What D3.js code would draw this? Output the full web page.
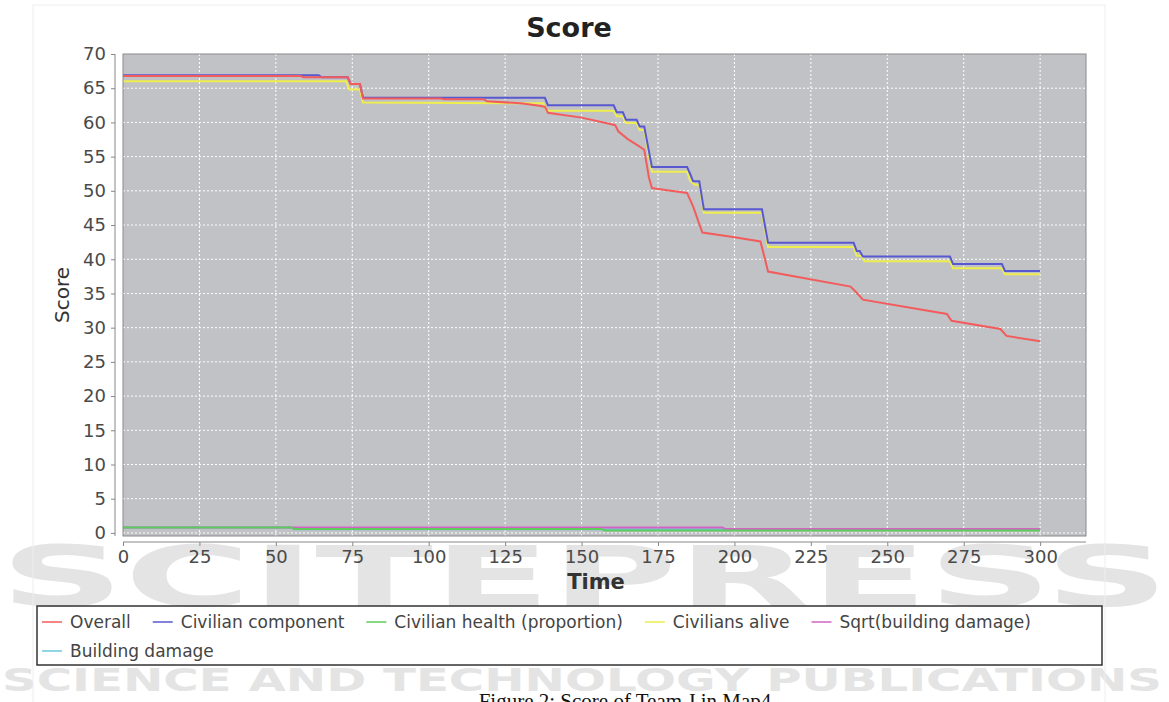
<!DOCTYPE html>
<html>
<head>
<meta charset="utf-8">
<script src="https://cdn.jsdelivr.net/npm/d3@7"></script>
<style>
  body { margin: 0; background: #fff; }
  svg { display: block; }
</style>
</head>
<body>
<div id="chart"></div>
<script>
// score data: [time, value]
var overall = [[0,66.8],[58,66.8],[59,66.6],[73.5,66.6],[74.5,65.6],[77.5,65.6],[78.5,63.5],[104,63.5],[105,63.4],[118,63.4],[119,63.1],[130,62.8],[135,62.5],[138,62.3],[139,61.4],[150,60.7],[159,59.8],[161,59.6],[162,58.7],[165,57.6],[168.5,56.6],[170.5,56.0],[172,52.0],[173,50.4],[178,50.1],[184.5,49.7],[186.5,47.7],[189.5,43.9],[199,43.3],[208.5,42.6],[210,40.0],[211,38.2],[238,36.0],[240,35.1],[242,34.1],[269.5,32.0],[271,31.0],[287,29.8],[289,28.8],[300,28.0]]
var civComponent = [[0,66.9],[64,66.9],[65,66.6],[73.5,66.6],[74.5,65.6],[77.5,65.6],[78.5,63.6],[138,63.6],[139,62.5],[160.5,62.5],[161.5,61.5],[163.5,61.5],[164.5,60.4],[168,60.4],[169,59.4],[170.5,59.4],[173,53.5],[184.5,53.5],[185.5,52.5],[186.5,51.4],[188.5,51.4],[190,47.3],[209,47.3],[211,42.4],[239,42.4],[240,41.2],[241,41.2],[242,40.4],[270.5,40.4],[271.5,39.3],[287.5,39.3],[288.5,38.3],[300,38.3]]
var civHealth = [[0,0.8],[55,0.8],[56,0.58],[156.5,0.58],[157.5,0.36],[300,0.36]]
var civAlive = [[0,66.0],[73,66.0],[74,64.8],[77.5,64.8],[78.5,62.9],[137.5,62.8],[138.5,61.7],[160.5,61.7],[161.5,60.9],[163.5,60.9],[164.5,59.9],[168,59.9],[169,58.9],[170.5,58.9],[173,52.8],[184.5,52.8],[185.5,51.5],[187,50.9],[188.5,50.9],[190,46.8],[209,46.8],[211,41.8],[239,41.8],[240,40.5],[241.5,40.5],[242.5,39.7],[270.5,39.7],[271.5,38.7],[287.5,38.7],[288.5,37.8],[300,37.8]]
var sqrtBuilding = [[0,0.8],[196,0.8],[197,0.58],[300,0.58]]
var buildingDamage = [[0,0.8],[55,0.8],[56,0.52],[196,0.52],[197,0.58],[300,0.58]]

var seriesNames = ['Overall', 'Civilian component', 'Civilian health (proportion)', 'Civilians alive', 'Sqrt(building damage)', 'Building damage']
var seriesData = [overall, civComponent, civHealth, civAlive, sqrtBuilding, buildingDamage]
var seriesColors = ['#f25c5c', '#5858d0', '#5ccc5c', '#eeee4e', '#d264c4', '#6cc8dc']

var xTicks = d3.range(0, 301, 25)
var yTicks = d3.range(0, 71, 5)

var width = 1169, height = 702

var svg = d3.select('#chart').append('svg')
    .attr('width', width)
    .attr('height', height)

// page watermark behind everything
svg.append('text')
    .attr('x', 0).attr('y', 606)
    .attr('textLength', 1169).attr('lengthAdjust', 'spacingAndGlyphs')
    .attr('font-family', 'DejaVu Sans').attr('font-weight', 'bold')
    .attr('font-size', 84).attr('fill', '#e4e4e4')
    .text('SCITEPRESS')
svg.append('text')
    .attr('x', 2).attr('y', 691)
    .attr('textLength', 1160).attr('lengthAdjust', 'spacingAndGlyphs')
    .attr('font-family', 'DejaVu Sans').attr('font-weight', 'bold')
    .attr('font-size', 32).attr('fill', '#e4e4e4')
    .text('SCIENCE AND TECHNOLOGY PUBLICATIONS')

svg.append('rect')
    .attr('x', 33).attr('y', 5).attr('width', 1072).attr('height', 700)
    .attr('fill', 'none').attr('stroke', '#eeeeee')

var x = d3.scaleLinear().domain([0, 315]).range([123, 1086])
var y = d3.scaleLinear().domain([-0.45, 70]).range([536, 54])

// plot background
svg.append('rect')
    .attr('x', x(0)).attr('y', y(70))
    .attr('width', x(315) - x(0)).attr('height', y(-0.45) - y(70))
    .attr('fill', '#c1c2c5')

// grid
svg.append('g').selectAll('line')
    .data(xTicks.filter(function(d) { return d > 0 }))
    .enter().append('line')
    .attr('x1', function(d) { return x(d) }).attr('x2', function(d) { return x(d) })
    .attr('y1', y(70)).attr('y2', y(-0.45))
    .attr('stroke', '#ffffff').attr('stroke-width', 1).attr('stroke-dasharray', '2,2')
svg.append('g').selectAll('line')
    .data(yTicks.filter(function(d) { return d < 70 }))
    .enter().append('line')
    .attr('x1', x(0)).attr('x2', x(315))
    .attr('y1', function(d) { return y(d) }).attr('y2', function(d) { return y(d) })
    .attr('stroke', '#ffffff').attr('stroke-width', 1).attr('stroke-dasharray', '2,2')

// series, drawn last-to-first so Overall sits on top
var line = d3.line()
    .x(function(d) { return x(d[0]) })
    .y(function(d) { return y(d[1]) })

for (var i = seriesData.length - 1; i >= 0; i--) {
    svg.append('path')
        .datum(seriesData[i])
        .attr('d', line)
        .attr('fill', 'none')
        .attr('stroke', seriesColors[i])
        .attr('stroke-width', 2)
}

// plot outline
svg.append('rect')
    .attr('x', x(0)).attr('y', y(70))
    .attr('width', x(315) - x(0)).attr('height', y(-0.45) - y(70))
    .attr('fill', 'none').attr('stroke', '#8a8a8a').attr('stroke-width', 1)

// axes
var xAxis = d3.axisBottom(x).tickValues(xTicks).tickSize(4).tickPadding(4)
var yAxis = d3.axisLeft(y).tickValues(yTicks).tickSize(4).tickPadding(5)

var gx = svg.append('g').attr('transform', 'translate(0,542)').call(xAxis)
gx.select('.domain').attr('d', 'M' + x(0) + ',0H' + x(315)).attr('stroke', '#888')
var gy = svg.append('g').attr('transform', 'translate(115,0)').call(yAxis)
gy.select('.domain').attr('d', 'M0,' + y(70) + 'V' + y(-0.45)).attr('stroke', '#888')

svg.selectAll('.tick line').attr('stroke', '#888')
svg.selectAll('.tick text')
    .attr('font-family', 'DejaVu Sans')
    .attr('font-size', 18)
    .attr('fill', '#4a4a4a')

// titles
svg.append('text')
    .attr('x', 569).attr('y', 37)
    .attr('text-anchor', 'middle')
    .attr('font-family', 'DejaVu Sans').attr('font-weight', 'bold')
    .attr('font-size', 27).attr('fill', '#222')
    .text('Score')
svg.append('text')
    .attr('x', 596).attr('y', 589)
    .attr('text-anchor', 'middle')
    .attr('font-family', 'DejaVu Sans').attr('font-weight', 'bold')
    .attr('font-size', 21).attr('fill', '#333')
    .text('Time')
svg.append('text')
    .attr('transform', 'translate(69,' + ((y(70) + y(-0.45)) / 2) + ') rotate(-90)')
    .attr('text-anchor', 'middle')
    .attr('font-family', 'DejaVu Sans')
    .attr('font-size', 20).attr('fill', '#333')
    .text('Score')

// legend
svg.append('rect')
    .attr('x', 37).attr('y', 606).attr('width', 1065).attr('height', 59)
    .attr('fill', 'none').attr('stroke', '#333').attr('stroke-width', 1.5)

var lx = 42, ly = 628, rowH = 29
seriesNames.forEach(function(name, i) {
    var item = svg.append('g')
    item.append('line')
        .attr('x1', 0).attr('x2', 20).attr('y1', -6).attr('y2', -6)
        .attr('stroke', seriesColors[i]).attr('stroke-width', 1.5)
    var t = item.append('text')
        .attr('x', 28).attr('y', 0)
        .attr('font-family', 'DejaVu Sans').attr('font-size', 17).attr('fill', '#444')
        .text(name)
    var w = 28 + t.node().getComputedTextLength()
    if (lx + w > 1095) { lx = 42; ly += rowH }
    item.attr('transform', 'translate(' + lx + ',' + ly + ')')
    lx += w + 22
})

// caption (cut by the page edge, as in the source)
svg.append('text')
    .attr('x', 625).attr('y', 708)
    .attr('text-anchor', 'middle')
    .attr('font-family', 'Liberation Serif')
    .attr('font-size', 21).attr('fill', '#111')
    .text('Figure 2: Score of Team J in Map4')
</script>
</body>
</html>
